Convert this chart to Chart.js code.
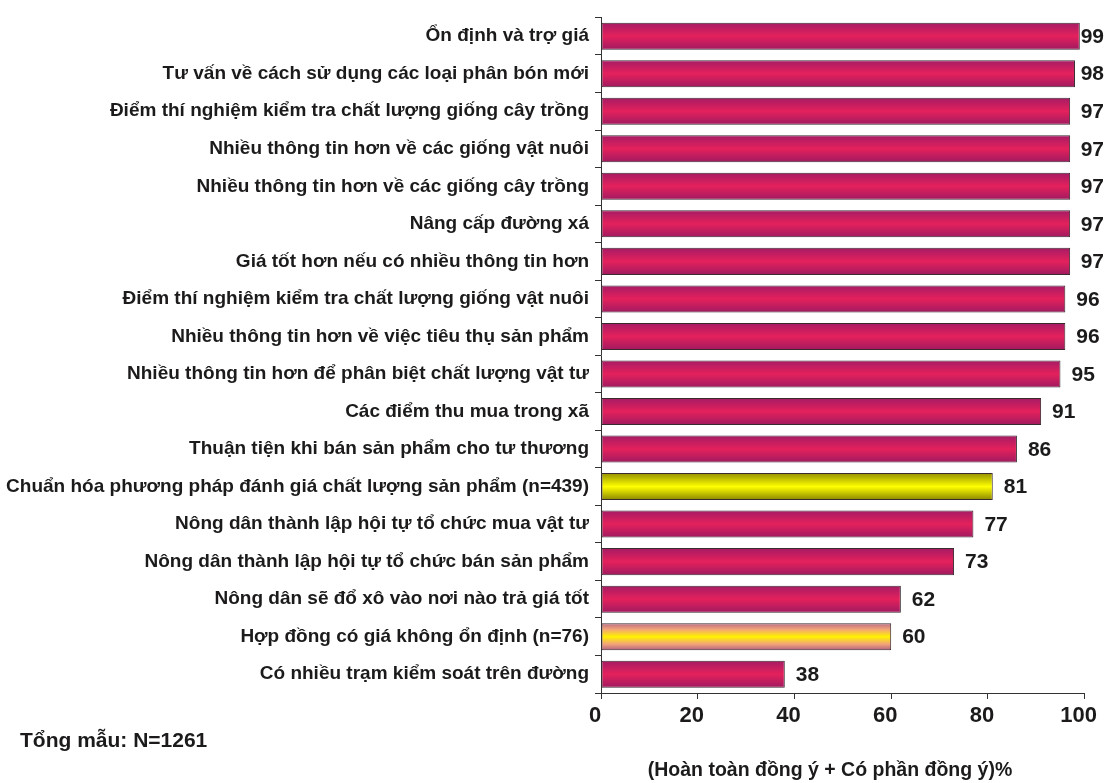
<!DOCTYPE html>
<html lang="vi">
<head>
<meta charset="utf-8">
<title>Mức độ đồng ý</title>
<script src="https://cdn.jsdelivr.net/npm/chart.js@4/dist/chart.umd.min.js"></script>
<style>
  html, body { margin: 0; padding: 0; background: #ffffff; }
  #wrap { position: relative; width: 1107px; height: 783px; }
</style>
</head>
<body>
<div id="wrap"><canvas id="chart"></canvas></div>
<script>
// Categories (top to bottom) and share agreeing, in percent
const categories = [
  'Ổn định và trợ giá',
  'Tư vấn về cách sử dụng các loại phân bón mới',
  'Điểm thí nghiệm kiểm tra chất lượng giống cây trồng',
  'Nhiều thông tin hơn về các giống vật nuôi',
  'Nhiều thông tin hơn về các giống cây trồng',
  'Nâng cấp đường xá',
  'Giá tốt hơn nếu có nhiều thông tin hơn',
  'Điểm thí nghiệm kiểm tra chất lượng giống vật nuôi',
  'Nhiều thông tin hơn về việc tiêu thụ sản phẩm',
  'Nhiều thông tin hơn để phân biệt chất lượng vật tư',
  'Các điểm thu mua trong xã',
  'Thuận tiện khi bán sản phẩm cho tư thương',
  'Chuẩn hóa phương pháp đánh giá chất lượng sản phẩm (n=439)',
  'Nông dân thành lập hội tự tổ chức mua vật tư',
  'Nông dân thành lập hội tự tổ chức bán sản phẩm',
  'Nông dân sẽ đổ xô vào nơi nào trả giá tốt',
  'Hợp đồng có giá không ổn định (n=76)',
  'Có nhiều trạm kiểm soát trên đường'
];
const agreePercent = [99, 98, 97, 97, 97, 97, 97, 96, 96, 95, 91, 86, 81, 77, 73, 62, 60, 38];
const xTickValues = [0, 20, 40, 60, 80, 100];
const sampleNote = 'Tổng mẫu: N=1261';
const xAxisTitle = '(Hoàn toàn đồng ý + Có phần đồng ý)%';

// Gradient palettes: default magenta, and accents for the sub-sample rows
const FONT = '"Liberation Sans", Arial, Helvetica, sans-serif';
const TEXT = '#1c1a1b';
const PALETTES = {
  magenta: [[0, '#a51b64'], [0.5, '#e4215c'], [1, '#a01a60']],
  yellow:  [[0, '#948f00'], [0.5, '#ffff00'], [1, '#8a8500']],
  peach:   [[0, '#b86a84'], [0.22, '#f2a27a'], [0.5, '#fff200'], [0.78, '#f2a27a'], [1, '#b0607c']]
};
const accentRows = { 12: 'yellow', 16: 'peach' };
const BAR_FRACTION = 0.72;

function barFill(ctx) {
  const chart = ctx.chart;
  const y = chart.scales && chart.scales.y;
  if (ctx.type !== 'data' || !y) return '#e4215c';
  const i = ctx.dataIndex;
  const band = y.height / categories.length;
  const c = y.getPixelForValue(i);
  const h = band * BAR_FRACTION;
  if (!isFinite(c) || !isFinite(h) || h <= 0) return '#e4215c';
  const g = chart.ctx.createLinearGradient(0, c - h / 2, 0, c + h / 2);
  const stops = PALETTES[accentRows[i] || 'magenta'];
  stops.forEach(([o, col]) => g.addColorStop(o, col));
  return g;
}

// Value labels at bar ends, plus the footnote and axis caption
const annotate = {
  id: 'annotate',
  afterDatasetsDraw(chart) {
    const { ctx } = chart;
    const meta = chart.getDatasetMeta(0);
    ctx.save();
    ctx.fillStyle = TEXT;
    ctx.font = 'bold 21px ' + FONT;
    ctx.textAlign = 'left';
    ctx.textBaseline = 'middle';
    meta.data.forEach((bar, i) => {
      const txt = String(agreePercent[i]);
      const w = ctx.measureText(txt).width;
      // keep the label inside the canvas near the right edge
      const x = Math.min(bar.x + 11, chart.width - 3 - w);
      ctx.fillText(txt, x, bar.y + 1);
    });
    ctx.restore();
  },
  afterDraw(chart) {
    const { ctx } = chart;
    ctx.save();
    ctx.fillStyle = TEXT;
    ctx.textBaseline = 'middle';
    ctx.font = 'bold 21px ' + FONT;
    ctx.textAlign = 'left';
    ctx.fillText(sampleNote, 20, 741);
    ctx.font = 'bold 19.5px ' + FONT;
    ctx.textAlign = 'center';
    ctx.fillText(xAxisTitle, 830, 771);
    ctx.restore();
  }
};

new Chart(document.getElementById('chart'), {
  type: 'bar',
  data: {
    labels: categories,
    datasets: [{
      data: agreePercent,
      backgroundColor: barFill,
      borderColor: '#3a2a2e',
      borderWidth: 1,
      borderSkipped: false,
      barPercentage: BAR_FRACTION,
      categoryPercentage: 1.0
    }]
  },
  options: {
    indexAxis: 'y',
    responsive: true,
    maintainAspectRatio: false,
    animation: false,
    events: [],
    layout: { padding: { top: 13, right: 22, bottom: 0, left: 0 } },
    plugins: {
      legend: { display: false },
      tooltip: { enabled: false }
    },
    scales: {
      x: {
        type: 'linear',
        min: 0,
        max: 100,
        afterBuildTicks(scale) { scale.ticks = xTickValues.map(v => ({ value: v })); },
        afterFit(scale) { scale.height = 90; },
        grid: { display: true, drawOnChartArea: false, drawTicks: true, tickLength: 6, color: '#333333' },
        border: { display: true, color: '#333333', width: 1 },
        ticks: {
          color: TEXT,
          font: { family: FONT, size: 22, weight: 'bold' },
          padding: 4,
          labelOffset: -6,
          maxRotation: 0
        }
      },
      y: {
        afterFit(scale) { scale.width = 601; },
        grid: { display: true, offset: true, drawOnChartArea: false, drawTicks: true, tickLength: 6, color: '#333333' },
        border: { display: true, color: '#333333', width: 1 },
        ticks: {
          color: TEXT,
          font: { family: FONT, size: 19, weight: 'bold' },
          padding: 6,
          autoSkip: false
        }
      }
    }
  },
  plugins: [annotate]
});
</script>
</body>
</html>
